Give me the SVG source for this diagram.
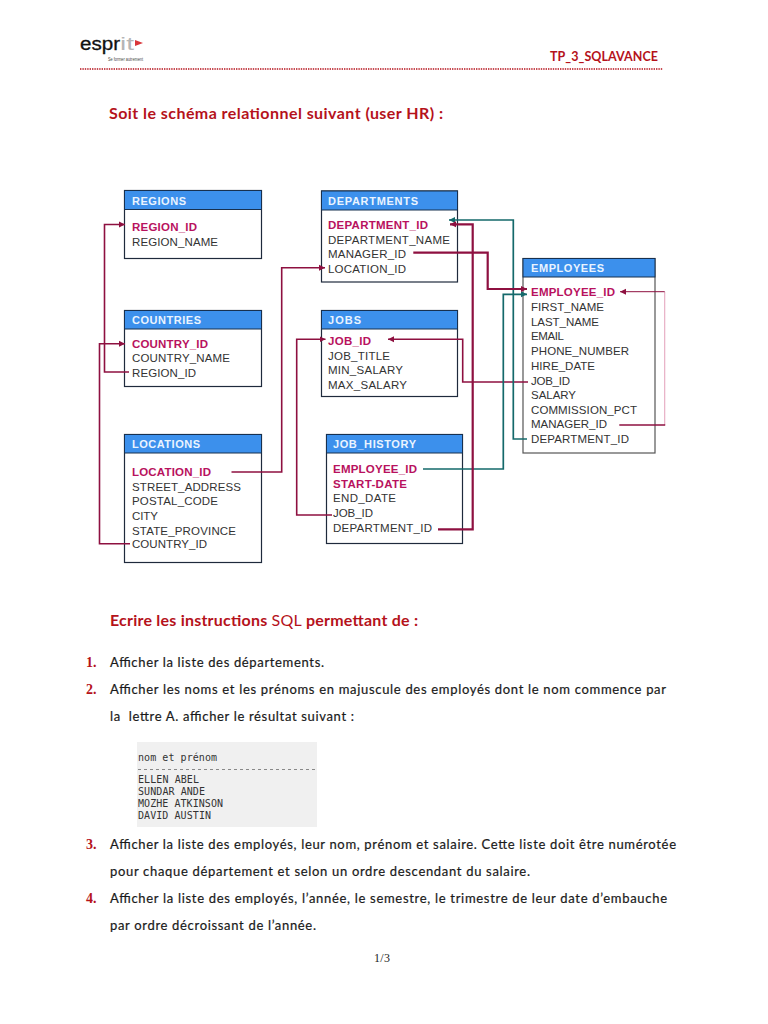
<svg xmlns="http://www.w3.org/2000/svg" width="768" height="1024" viewBox="0 0 768 1024">
<style>
.box{fill:#fff;stroke:#1f2a3c;stroke-width:1.2}
.hd{fill:#3c90ec;stroke:#17304f;stroke-width:1}
.t{font-family:"Liberation Sans",Arial,sans-serif;font-size:11px;font-weight:700;fill:#eaf4ff}
.f{font-family:"Liberation Sans",Arial,sans-serif;font-size:11.5px;fill:#333}
.k{font-family:"Liberation Sans",Arial,sans-serif;font-size:11.5px;font-weight:700;fill:#b8125e}
.c{fill:none;stroke:#8e1040;stroke-width:1.6}
.c2{fill:none;stroke:#8e1040;stroke-width:2.2}
.g{fill:none;stroke:#14696b;stroke-width:1.7}
.b{font-family:Lato,"Liberation Sans",sans-serif;font-size:13px;fill:#1a1a1a;stroke:#1a1a1a;stroke-width:.2}
.n{font-family:"Liberation Serif",serif;font-size:14px;font-weight:700;fill:#b5121b}
.h{font-family:Lato,"Liberation Sans",sans-serif;font-size:16px;font-weight:700;fill:#b5121b}
.m{font-family:"DejaVu Sans Mono",monospace;font-size:10px;fill:#333}
</style>
<defs>
<marker id="ac" markerUnits="userSpaceOnUse" markerWidth="7" markerHeight="7" refX="6" refY="3.5" orient="auto"><path d="M0,.5L6,3.5L0,6.5z" fill="#8e1040"/></marker>
<marker id="ag" markerUnits="userSpaceOnUse" markerWidth="7" markerHeight="7" refX="6" refY="3.5" orient="auto"><path d="M0,.5L6,3.5L0,6.5z" fill="#14696b"/></marker>
</defs>
<rect width="768" height="1024" fill="#fff"/>

<g id="header">
<text x="80" y="50" font-family="'Liberation Sans',sans-serif" font-size="18" fill="#111" stroke="#111" stroke-width=".3" textLength="40" lengthAdjust="spacingAndGlyphs">espr</text>
<text x="120" y="50" font-family="'Liberation Sans',sans-serif" font-size="18" fill="#b5b5b5" textLength="14" lengthAdjust="spacingAndGlyphs">it</text>
<path d="M135,40L143,43L135,46z" fill="#d9363a"/>
<text x="108" y="60.500" font-family="'Liberation Sans',sans-serif" font-size="5" fill="#444" textLength="35" lengthAdjust="spacingAndGlyphs">Se former autrement</text>
<text x="550" y="61" font-family="Lato,'Liberation Sans',sans-serif" font-size="12.5" font-weight="700" fill="#b5121b" textLength="108">TP_3_SQLAVANCE</text>
<line x1="80" y1="69" x2="663" y2="69" stroke="#b5121b" stroke-width="1.5" stroke-dasharray="1.4 1"/>
<text class="h" x="109" y="119" textLength="334">Soit le schéma relationnel suivant (user HR) :</text>
</g>

<g id="regions">
<rect class="box" x="124.5" y="190.500" width="137" height="68"/>
<rect class="hd" x="124.5" y="190.500" width="137" height="19"/>
<text class="t" x="132" y="205" textLength="54">REGIONS</text>
<text class="k" x="132" y="231" textLength="65">REGION_ID</text>
<text class="f" x="132" y="246" textLength="86">REGION_NAME</text>
</g>
<g id="countries">
<rect class="box" x="124.5" y="310.500" width="137" height="76"/>
<rect class="hd" x="124.5" y="310.500" width="137" height="18.500"/>
<text class="t" x="132" y="324" textLength="69">COUNTRIES</text>
<text class="k" x="132" y="348" textLength="76">COUNTRY_ID</text>
<text class="f" x="132" y="362" textLength="98">COUNTRY_NAME</text>
<text class="f" x="132" y="377" textLength="64">REGION_ID</text>
</g>
<g id="locations">
<rect class="box" x="124.5" y="434.500" width="137" height="128"/>
<rect class="hd" x="124.5" y="434.500" width="137" height="18.500"/>
<text class="t" x="132" y="448" textLength="68">LOCATIONS</text>
<text class="k" x="132" y="476" textLength="79">LOCATION_ID</text>
<text class="f" x="132" y="491" textLength="109">STREET_ADDRESS</text>
<text class="f" x="132" y="505" textLength="86">POSTAL_CODE</text>
<text class="f" x="132" y="520" textLength="26">CITY</text>
<text class="f" x="132" y="534.500" textLength="104">STATE_PROVINCE</text>
<text class="f" x="132" y="548" textLength="75">COUNTRY_ID</text>
</g>
<g id="departments">
<rect class="box" x="321.5" y="191" width="136" height="91"/>
<rect class="hd" x="321.5" y="191" width="136" height="19"/>
<text class="t" x="328" y="205" textLength="90">DEPARTMENTS</text>
<text class="k" x="328" y="229" textLength="100">DEPARTMENT_ID</text>
<text class="f" x="328" y="243.500" textLength="122">DEPARTMENT_NAME</text>
<text class="f" x="328" y="258" textLength="78">MANAGER_ID</text>
<text class="f" x="328" y="272.500" textLength="78">LOCATION_ID</text>
</g>
<g id="jobs">
<rect class="box" x="321.5" y="310.500" width="136" height="86"/>
<rect class="hd" x="321.5" y="310.500" width="136" height="18.500"/>
<text class="t" x="328" y="324" textLength="33">JOBS</text>
<text class="k" x="328" y="345" textLength="43">JOB_ID</text>
<text class="f" x="328" y="360" textLength="62">JOB_TITLE</text>
<text class="f" x="328" y="374" textLength="75">MIN_SALARY</text>
<text class="f" x="328" y="389" textLength="79">MAX_SALARY</text>
</g>
<g id="job_history">
<rect class="box" x="326.5" y="434.500" width="136" height="109"/>
<rect class="hd" x="326.5" y="434.500" width="136" height="18.500"/>
<text class="t" x="333" y="448" textLength="83">JOB_HISTORY</text>
<text class="k" x="333" y="473" textLength="84">EMPLOYEE_ID</text>
<text class="k" x="333" y="488" textLength="74">START-DATE</text>
<text class="f" x="333" y="502" textLength="63">END_DATE</text>
<text class="f" x="333" y="517" textLength="40">JOB_ID</text>
<text class="f" x="333" y="532" textLength="99">DEPARTMENT_ID</text>
</g>
<g id="employees">
<rect x="523" y="258.500" width="132" height="194.500" fill="#fff" stroke="#555" stroke-width="1.200"/>
<rect class="hd" x="523" y="258.500" width="132" height="18.500"/>
<text class="t" x="531" y="272" textLength="73">EMPLOYEES</text>
<text class="k" x="531" y="296" textLength="84">EMPLOYEE_ID</text>
<text class="f" x="531" y="311" textLength="73">FIRST_NAME</text>
<text class="f" x="531" y="325.500" textLength="68">LAST_NAME</text>
<text class="f" x="531" y="340" textLength="33">EMAIL</text>
<text class="f" x="531" y="355" textLength="98">PHONE_NUMBER</text>
<text class="f" x="531" y="369.500" textLength="64">HIRE_DATE</text>
<text class="f" x="531" y="384.500" textLength="39">JOB_ID</text>
<text class="f" x="531" y="399" textLength="45">SALARY</text>
<text class="f" x="531" y="413.500" textLength="106">COMMISSION_PCT</text>
<text class="f" x="531" y="428" textLength="76">MANAGER_ID</text>
<text class="f" x="531" y="442.500" textLength="98">DEPARTMENT_ID</text>
</g>

<g id="connectors">
<path class="c" d="M129,372H104.5V224.500H125" marker-end="url(#ac)"/>
<path class="c" d="M130,543.700H99.500V343.700H125" marker-end="url(#ac)"/>
<path class="c" d="M231.500,472H281.700V267.700H325" marker-end="url(#ac)"/>
<path class="c" d="M332,515H296.700V339.300H325.500" marker-end="url(#ac)"/>
<path class="c" d="M528,382H462.700V339.300H388" marker-end="url(#ac)"/>
<path class="g" d="M527,439H513.300V220H449" marker-end="url(#ag)"/>
<path class="g" d="M423,469H503.300V294.300H527" marker-end="url(#ag)"/>
<path class="c2" d="M438,529.300H472.700V224.300H450" marker-end="url(#ac)"/>
<path class="c2" d="M413.300,252.700H487.700V289H527" marker-end="url(#ac)"/>
<path fill="none" stroke="#e6a8c0" stroke-width="1.100" d="M664.700,291.700V425"/>
<path fill="none" stroke="#8e1040" stroke-width="1" d="M664.700,291.700H620" marker-end="url(#ac)"/>
<path class="c" d="M619.300,425H665.200"/>
</g>

<g id="questions">
<text class="h" x="110" y="626" textLength="308">Ecrire les instructions <tspan font-weight="400">SQL</tspan> permettant de :</text>
<text class="n" x="86" y="667">1.</text>
<text class="b" x="110" y="667" textLength="214">Afficher la liste des départements.</text>
<text class="n" x="86" y="694">2.</text>
<text class="b" x="110" y="694" textLength="556">Afficher les noms et les prénoms en majuscule des employés dont le nom commence par</text>
<text class="b" x="110" y="721" textLength="244" xml:space="preserve">la  lettre A. afficher le résultat suivant :</text>
<text class="n" x="86" y="849">3.</text>
<text class="b" x="110" y="849" textLength="566">Afficher la liste des employés, leur nom, prénom et salaire. Cette liste doit être numérotée</text>
<text class="b" x="110" y="876" textLength="420">pour chaque département et selon un ordre descendant du salaire.</text>
<text class="n" x="86" y="903">4.</text>
<text class="b" x="110" y="903" textLength="557">Afficher la liste des employés, l’année, le semestre, le trimestre de leur date d’embauche</text>
<text class="b" x="110" y="930" textLength="206">par ordre décroissant de l’année.</text>
<text x="374" y="962" font-family="'Liberation Serif',serif" font-size="12" fill="#222" textLength="16">1/3</text>
</g>

<g id="result">
<rect x="137" y="742" width="180" height="85" fill="#f0f0f0"/>
<text class="m" x="138" y="761" textLength="79">nom et prénom</text>
<line x1="138" y1="769.500" x2="317" y2="769.500" stroke="#888" stroke-dasharray="3 3"/>
<text class="m" x="138" y="783" textLength="61">ELLEN ABEL</text>
<text class="m" x="138" y="795" textLength="67">SUNDAR ANDE</text>
<text class="m" x="138" y="807" textLength="85">MOZHE ATKINSON</text>
<text class="m" x="138" y="819" textLength="73">DAVID AUSTIN</text>
</g>
</svg>
